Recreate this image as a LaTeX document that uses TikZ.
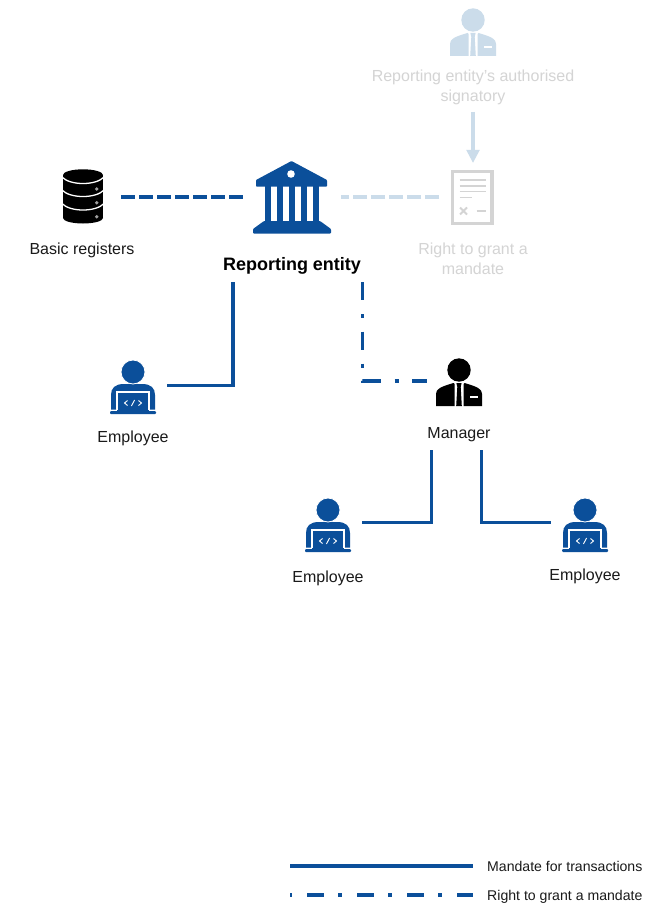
\documentclass[tikz,border=0pt]{standalone}
\usepackage{fontspec}
\setmainfont{Liberation Sans}
\usetikzlibrary{arrows.meta}
\definecolor{eblue}{HTML}{0B4F9A}
\definecolor{paleblue}{HTML}{CBDCEA}
\definecolor{palegrey}{HTML}{D4D4D4}
\definecolor{labelk}{HTML}{1A1A1A}
\tikzset{
  x=1pt,y=-1pt,
  lbl/.style={font=\fontsize{16}{20}\selectfont,text=labelk,align=center,inner sep=0pt},
  palelbl/.style={lbl,text=palegrey},
  boldlbl/.style={lbl,font=\fontsize{18}{20}\selectfont\bfseries,text=black},
  legendlbl/.style={font=\fontsize{14.1}{16}\selectfont,text=labelk,anchor=west,inner sep=0pt},
  mandate/.style={draw=eblue,line width=3.7pt},
  grantline/.style={draw=eblue,line width=3.7pt,dash pattern=on 18pt off 14pt on 4pt off 13.5pt},
  legendgrant/.style={draw=eblue,line width=3.7pt,dash pattern=on 17pt off 14pt on 4pt off 15pt,dash phase=33pt},
  dashline/.style={draw=eblue,line width=3.7pt,dash pattern=on 13.7pt off 4.3pt},
  paledash/.style={draw=paleblue,line width=3.7pt,dash pattern=on 13.7pt off 4.3pt},
  employee/.pic={
    \fill[eblue] (-22,20.5) -- (-22,6) .. controls (-22,-1) and (-18,-5) .. (-9,-5) -- (9,-5) .. controls (18,-5) and (22,-1) .. (22,6) -- (22,20.5) -- cycle;
    \filldraw[fill=eblue,draw=white,line width=.8pt] (0,-17) circle (12);
    \fill[eblue] (-16,20) rectangle (16,23);
    \draw[white,line width=1.3pt] (-16,21) -- (-16,3) -- (16,3) -- (16,21);
    \fill[eblue,rounded corners=1pt] (-23,22) rectangle (23,25);
    \draw[white,line width=.9pt] (-5.5,11.5) -- (-8.5,14) -- (-5.5,16.5) (5.5,11.5) -- (8.5,14) -- (5.5,16.5) (1.6,11) -- (-1.6,17);
  },
  suit/.pic={
    \fill[pic actions] (0,-15) circle (11.7);
    \fill[pic actions] (-23,21) -- (-23,9) .. controls (-23,4) and (-19,2) .. (-5.5,-2) -- (-4.5,-1) -- (-4.5,21) -- cycle;
    \fill[pic actions] (23,21) -- (23,9) .. controls (23,4) and (19,2) .. (5.5,-2) -- (4.5,-1) -- (4.5,21) -- cycle;
    \fill[pic actions] (-2.6,-2) -- (2.6,-2) -- (1.7,2) -- (2.8,21) -- (-2.8,21) -- (-1.7,2) -- cycle;
    \fill[white] (11,11) rectangle (18.5,13);
  },
}
\begin{document}
\begin{tikzpicture}
\useasboundingbox (0,0) rectangle (646,904);
\fill[white] (0,0) rectangle (646,904);

% ---------- anchors of the connectors
\coordinate (dbE) at (121,197);
\coordinate (bankW) at (243,197);
\coordinate (bankE) at (341,197);
\coordinate (docW) at (439,197);
\coordinate (sigS) at (473,112);
\coordinate (docN) at (473,163);
\coordinate (entL) at (233,282);
\coordinate (emp1E) at (167,385.5);
\coordinate (entR) at (362.5,282);
\coordinate (mgrW) at (427,381);
\coordinate (mgrL) at (431.5,450);
\coordinate (emp2E) at (362,522.5);
\coordinate (mgrR) at (481.5,450);
\coordinate (emp3E) at (551,522.5);
\coordinate (legA1) at (290,866);
\coordinate (legA2) at (473,866);
\coordinate (legB1) at (290,895);
\coordinate (legB2) at (473,895);

% ---------- signatory (pale)
\pic[paleblue,fill=paleblue] at (473,35) {suit};
\node[palelbl] (sigl) at (473,87.5) {Reporting entity's authorised\\signatory};
\draw[draw=paleblue,line width=4pt,-{Triangle[width=12.5pt,length=13pt]}] (sigS) -- (docN);

% ---------- document (pale)
\draw[palegrey,line width=3.4pt] (452.5,171.5) rectangle (492,223.5);
\draw[palegrey,line width=1.4pt] (459.5,180) -- (485.7,180) (459.5,186) -- (485.7,186) (459.5,191.7) -- (485.7,191.7) (459.5,197.3) -- (472,197.3) (476.7,211) -- (485.7,211);
\draw[palegrey,line width=1.8pt] (460,207.5) -- (467,214.5) (467,207.5) -- (460,214.5);
\node[palelbl] (docl) at (473,258.5) {Right to grant a\\mandate};

% ---------- database
\fill[black] (83,175) ellipse (20 and 5.7);
\fill[black] (83,218) ellipse (20 and 5.5);
\fill[black] (63,175) rectangle (103,218);
\draw[white,line width=1.3pt] (62,177) .. controls (70,185.7) and (96,185.7) .. (104,177);
\draw[white,line width=1.3pt] (62,190) .. controls (70,198.7) and (96,198.7) .. (104,190);
\draw[white,line width=1.3pt] (62,203.5) .. controls (70,212.2) and (96,212.2) .. (104,203.5);
\fill[gray!75] (96.7,189) circle (1.9) (96.7,202.7) circle (1.9) (96.7,216.7) circle (1.9);
\node[lbl] (dbl) at (82,250) {Basic registers};

% ---------- bank
\fill[eblue,rounded corners=.8pt] (291.5,161) -- (327,180) -- (327,186.7) -- (256,186.7) -- (256,180) -- cycle;
\fill[white] (291,174) circle (3.8);
\foreach \xx in {264.5,276.7,289,301.2,313.4}{\fill[eblue] (\xx,186) rectangle (\xx+6,222);}
\fill[eblue,rounded corners=.8pt] (264,221) -- (320,221) -- (331,229) -- (331,233.5) -- (253,233.5) -- (253,229) -- cycle;
\node[boldlbl] (entl) at (292,266) {Reporting entity};

% ---------- employees, manager
\pic at (133,389) {employee};
\node[lbl] (e1l) at (133,438) {Employee};
\pic[black,fill=black] at (459,385) {suit};
\node[lbl] (ml) at (459,434.5) {Manager};
\pic at (328,527) {employee};
\node[lbl] (e2l) at (328,578) {Employee};
\pic at (585,527) {employee};
\node[lbl] (e3l) at (585,576) {Employee};

% ---------- connectors
\draw[dashline] (dbE) -- (bankW);
\draw[paledash] (docW) -- (bankE);
\draw[mandate] (entL) -- (entL |- emp1E) -- (emp1E);
\draw[grantline] (entR) -- (entR |- mgrW) -- (mgrW);
\draw[mandate] (mgrL) -- (mgrL |- emp2E) -- (emp2E);
\draw[mandate] (mgrR) -- (mgrR |- emp3E) -- (emp3E);

% ---------- legend
\draw[mandate] (legA1) -- (legA2);
\node[legendlbl] (la) at (487,866.5) {Mandate for transactions};
\draw[legendgrant] (legB1) -- (legB2);
\node[legendlbl] (lb) at (487,896.5) {Right to grant a mandate};
\end{tikzpicture}
\end{document}
